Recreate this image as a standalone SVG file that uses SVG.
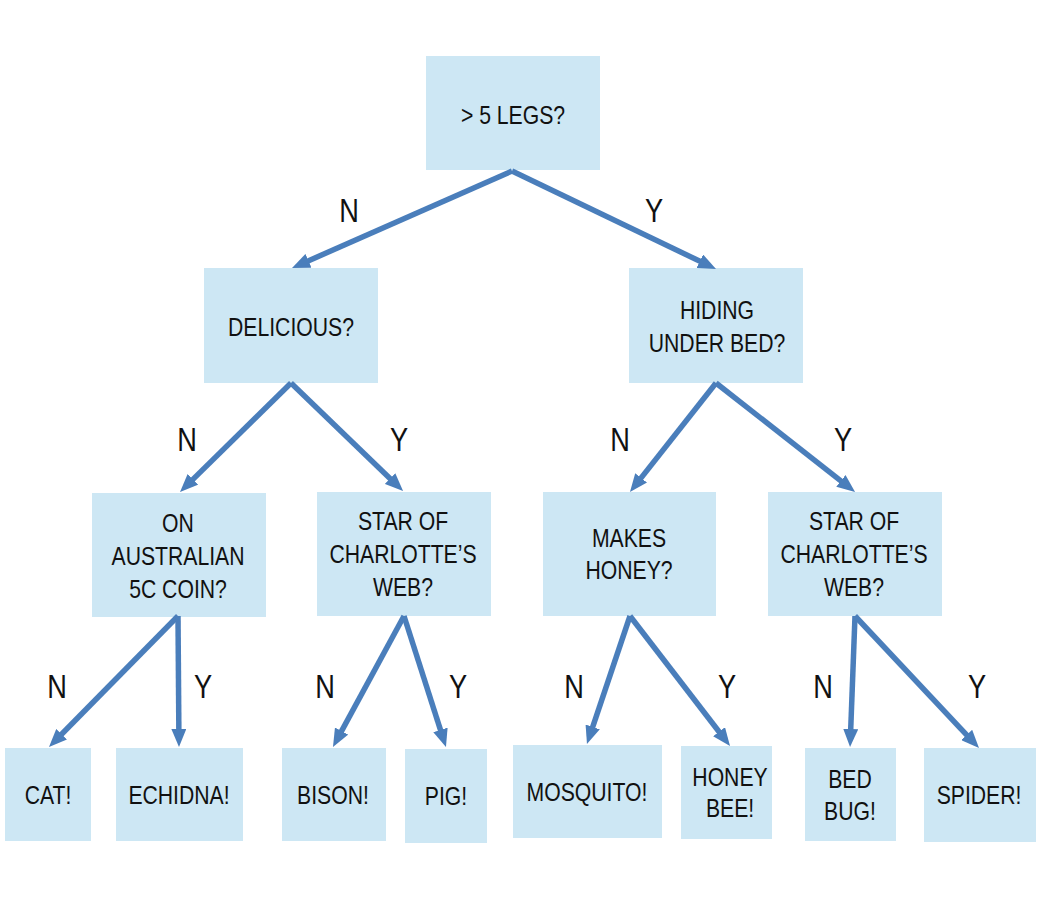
<svg xmlns="http://www.w3.org/2000/svg" width="1039" height="900" viewBox="0 0 1039 900">
<style>
.box{fill:#cde7f4}
.t{font-family:"Liberation Sans",Arial,sans-serif;font-size:26px;fill:#111;text-anchor:middle}
.lbl{font-family:"Liberation Sans",Arial,sans-serif;font-size:34px;fill:#111;text-anchor:middle}
.c{fill:none;stroke:#4a7ebb;stroke-width:5.5;marker-end:url(#ah)}
</style>
<defs>
<marker id="ah" markerUnits="userSpaceOnUse" markerWidth="18" markerHeight="15" viewBox="0 0 18 15" refX="6" refY="7.5" orient="auto">
<path d="M0,0 L18,7.5 L0,15 z" fill="#4a7ebb"/>
</marker>
</defs>
<rect width="1039" height="900" fill="#fff"/>

<g id="n-root"><rect class="box" x="426" y="56" width="174" height="114"/><text class="t" transform="translate(513,0) scale(0.815,1)" x="0" y="124">&gt; 5 LEGS?</text></g>
<g id="n-delicious"><rect class="box" x="204" y="268" width="174" height="115"/><text class="t" transform="translate(291,0) scale(0.815,1)" x="0" y="336">DELICIOUS?</text></g>
<g id="n-hiding"><rect class="box" x="629" y="268" width="174" height="115"/><text class="t" transform="translate(717,0) scale(0.815,1)"><tspan x="0" y="319">HIDING</tspan><tspan x="0" y="352">UNDER BED?</tspan></text></g>
<g id="n-coin"><rect class="box" x="92" y="493" width="174" height="124"/><text class="t" transform="translate(178,0) scale(0.815,1)"><tspan x="0" y="532">ON</tspan><tspan x="0" y="565">AUSTRALIAN</tspan><tspan x="0" y="598">5C COIN?</tspan></text></g>
<g id="n-star-left"><rect class="box" x="317" y="492" width="174" height="124"/><text class="t" transform="translate(403,0) scale(0.815,1)"><tspan x="0" y="530">STAR OF</tspan><tspan x="0" y="563">CHARLOTTE’S</tspan><tspan x="0" y="596">WEB?</tspan></text></g>
<g id="n-honey"><rect class="box" x="543" y="492" width="173" height="124"/><text class="t" transform="translate(629,0) scale(0.815,1)"><tspan x="0" y="547">MAKES</tspan><tspan x="0" y="579">HONEY?</tspan></text></g>
<g id="n-star-right"><rect class="box" x="768" y="492" width="174" height="124"/><text class="t" transform="translate(854,0) scale(0.815,1)"><tspan x="0" y="530">STAR OF</tspan><tspan x="0" y="563">CHARLOTTE’S</tspan><tspan x="0" y="596">WEB?</tspan></text></g>

<g id="n-cat"><rect class="box" x="5" y="748" width="86" height="93"/><text class="t" transform="translate(48,0) scale(0.815,1)" x="0" y="804">CAT!</text></g>
<g id="n-echidna"><rect class="box" x="116" y="748" width="127" height="93"/><text class="t" transform="translate(179,0) scale(0.815,1)" x="0" y="804">ECHIDNA!</text></g>
<g id="n-bison"><rect class="box" x="282" y="748" width="104" height="93"/><text class="t" transform="translate(333,0) scale(0.815,1)" x="0" y="804">BISON!</text></g>
<g id="n-pig"><rect class="box" x="405" y="749" width="82" height="94"/><text class="t" transform="translate(446,0) scale(0.815,1)" x="0" y="805">PIG!</text></g>
<g id="n-mosquito"><rect class="box" x="513" y="745" width="149" height="93"/><text class="t" transform="translate(587,0) scale(0.815,1)" x="0" y="801">MOSQUITO!</text></g>
<g id="n-honeybee"><rect class="box" x="681" y="746" width="91" height="93"/><text class="t" transform="translate(730,0) scale(0.815,1)"><tspan x="0" y="786">HONEY</tspan><tspan x="0" y="817">BEE!</tspan></text></g>
<g id="n-bedbug"><rect class="box" x="805" y="748" width="91" height="93"/><text class="t" transform="translate(850,0) scale(0.815,1)"><tspan x="0" y="788">BED</tspan><tspan x="0" y="820">BUG!</tspan></text></g>
<g id="n-spider"><rect class="box" x="924" y="748" width="112" height="94"/><text class="t" transform="translate(979,0) scale(0.815,1)" x="0" y="804">SPIDER!</text></g>

<g id="connectors">
<path class="c" d="M512,171 L303,263.2"/>
<path class="c" d="M512,171 L705.2,263.8"/>
<path class="c" d="M291,383 L188.6,483.6"/>
<path class="c" d="M291,383 L394.4,482.7"/>
<path class="c" d="M716,383 L637.4,482.6"/>
<path class="c" d="M716,383 L845.6,484.6"/>
<path class="c" d="M178,616 L57.4,738.5"/>
<path class="c" d="M178,616 L178.9,735"/>
<path class="c" d="M404,616 L338.7,736.4"/>
<path class="c" d="M404,616 L442.3,735.6"/>
<path class="c" d="M630,616 L590.8,732.6"/>
<path class="c" d="M630,616 L722.7,736.5"/>
<path class="c" d="M855,616 L850.5,735"/>
<path class="c" d="M855,616 L970.8,739.3"/>
</g>

<g id="labels">
<text class="lbl" transform="translate(349,0) scale(0.8,1)" x="0" y="222">N</text>
<text class="lbl" transform="translate(654,0) scale(0.8,1)" x="0" y="222">Y</text>
<text class="lbl" transform="translate(187,0) scale(0.8,1)" x="0" y="451">N</text>
<text class="lbl" transform="translate(399,0) scale(0.8,1)" x="0" y="451">Y</text>
<text class="lbl" transform="translate(620,0) scale(0.8,1)" x="0" y="451">N</text>
<text class="lbl" transform="translate(843,0) scale(0.8,1)" x="0" y="451">Y</text>
<text class="lbl" transform="translate(57,0) scale(0.8,1)" x="0" y="698">N</text>
<text class="lbl" transform="translate(203,0) scale(0.8,1)" x="0" y="698">Y</text>
<text class="lbl" transform="translate(325,0) scale(0.8,1)" x="0" y="698">N</text>
<text class="lbl" transform="translate(458,0) scale(0.8,1)" x="0" y="698">Y</text>
<text class="lbl" transform="translate(574,0) scale(0.8,1)" x="0" y="698">N</text>
<text class="lbl" transform="translate(727,0) scale(0.8,1)" x="0" y="698">Y</text>
<text class="lbl" transform="translate(823,0) scale(0.8,1)" x="0" y="698">N</text>
<text class="lbl" transform="translate(977,0) scale(0.8,1)" x="0" y="698">Y</text>
</g>
</svg>
